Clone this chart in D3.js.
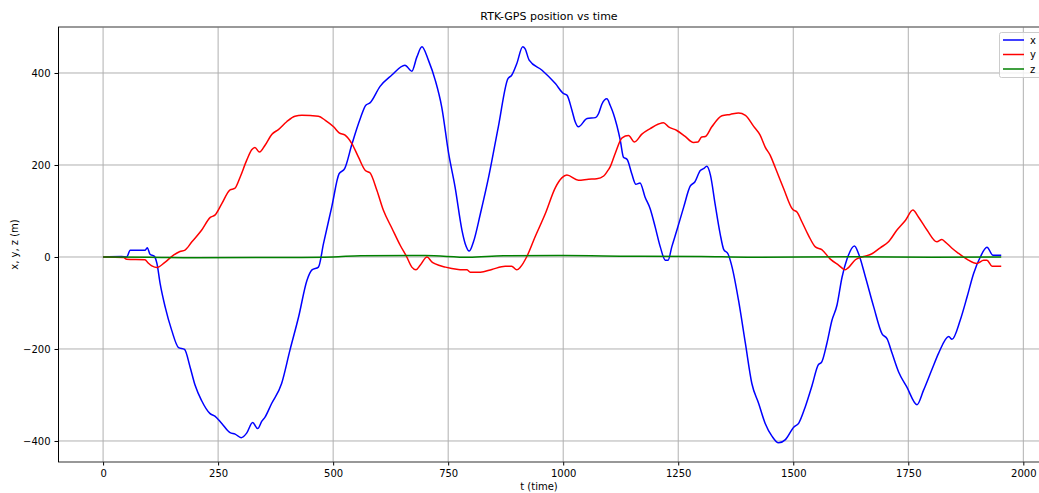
<!DOCTYPE html>
<html>
<head>
<meta charset="utf-8">
<script src="https://cdn.jsdelivr.net/npm/d3@7"></script>
<style>
body { margin: 0; background: #fff; }
text { font-family: "DejaVu Sans", sans-serif; fill: #000; }
</style>
</head>
<body>
<svg width="1039" height="493"></svg>
<script>
// samples: [t, value]
var xSeries = [[0,0],[40,1],[51,0],[59,14.5],[91,14.5],[96,20],[102,6],[111,2],[117,-14],[124,-58],[135,-109],[149,-159],[164,-197],[177,-201],[189,-239],[200,-279],[214,-312],[232,-340],[243,-346],[258,-362],[276,-382],[287,-385],[300,-393],[312,-383],[325,-360],[336,-373],[345,-357],[352,-348],[366,-319],[388,-275],[406,-203],[425,-130],[443,-51],[454,-28],[468,-22],[479,29],[497,109],[513,181],[525,192],[541,246],[559,301],[571,330],[580,335],[602,371],[627,395],[656,417],[671,404],[682,435],[693,457],[707,428],[722,384],[736,326],[751,225],[765,152],[780,58],[787,29],[796,13],[805,33],[820,94],[838,174],[859,283],[880,388],[888,395],[899,420],[912,457],[917,453],[926,428],[954,406],[983,377],[1001,355],[1008,352],[1019,319],[1026,294],[1033,283],[1052,301],[1070,303],[1077,312],[1084,332],[1095,344],[1102,330],[1109,312],[1124,254],[1131,217],[1139,212],[1149,181],[1158,158],[1167,161],[1178,130],[1189,105],[1200,65],[1211,22],[1222,-7],[1228,-7],[1236,22],[1247,58],[1262,109],[1276,154],[1286,163],[1298,188],[1305,192],[1312,197],[1320,178],[1330,116],[1341,51],[1349,16],[1358,7],[1367,-22],[1381,-94],[1396,-188],[1410,-275],[1425,-319],[1439,-362],[1454,-390],[1468,-404],[1483,-397],[1501,-370],[1512,-361],[1526,-326],[1541,-279],[1554,-235],[1562,-228],[1573,-188],[1584,-138],[1595,-105],[1606,-44],[1617,-4],[1633,24],[1642,7],[1657,-44],[1675,-109],[1693,-167],[1704,-178],[1715,-210],[1729,-250],[1747,-283],[1769,-321],[1783,-290],[1802,-243],[1816,-209],[1838,-173],[1845,-179],[1863,-137],[1878,-86],[1892,-36],[1907,1],[1921,21],[1934,4],[1952,4]];

var ySeries = [[0,0],[45,-1],[51,-5],[91,-6],[98,-13],[107,-20],[117,-23],[135,-11],[153,4],[167,12],[178,15],[193,33],[214,58],[233,86],[243,91],[258,116],[276,146],[286,149],[298,174],[312,210],[323,233],[330,238],[340,228],[352,243],[367,267],[381,277],[399,294],[417,306],[432,308],[468,306],[483,297],[501,283],[513,270],[526,265],[541,246],[555,217],[570,188],[580,183],[595,145],[609,102],[628,62],[646,25],[660,0],[671,-22],[680,-28],[689,-18],[704,0],[715,-11],[722,-15],[744,-22],[772,-27],[791,-28],[798,-33],[820,-33],[845,-27],[874,-20],[888,-20],[899,-28],[907,-22],[921,1],[939,44],[961,94],[983,151],[997,172],[1008,178],[1033,167],[1055,169],[1073,170],[1088,176],[1095,185],[1102,196],[1113,225],[1128,259],[1142,264],[1155,250],[1171,267],[1189,279],[1207,289],[1218,292],[1229,283],[1247,275],[1265,262],[1283,249],[1293,250],[1301,261],[1309,262],[1323,283],[1345,307],[1363,310],[1381,313],[1396,308],[1414,284],[1428,265],[1439,239],[1450,221],[1461,194],[1479,149],[1499,103],[1508,98],[1519,76],[1533,47],[1548,22],[1562,16],[1580,-4],[1599,-18],[1613,-28],[1620,-23],[1635,-6],[1653,1],[1671,7],[1689,20],[1707,33],[1725,58],[1744,80],[1760,102],[1772,87],[1791,58],[1812,33],[1823,38],[1830,33],[1845,19],[1859,8],[1878,-5],[1899,-14],[1914,-7],[1921,-7],[1932,-20],[1952,-20]];

var zSeries = [[0,0],[100,-0.5],[200,-1.5],[400,-1],[500,0],[560,2.8],[700,3],[795,-0.7],[870,2.5],[1000,3],[1150,1.5],[1300,1],[1400,-0.5],[1630,0.5],[1800,-0.5],[1952,0]];

var xTicks = [0, 250, 500, 750, 1000, 1250, 1500, 1750, 2000];
var yTicks = [-400, -200, 0, 200, 400];
var seriesNames = ["x", "y", "z"];
var seriesColors = ["#0000ff", "#ff0000", "#008000"];

var svg = d3.select("svg");
var pLeft = 58, pRight = 1050, pTop = 27, pBottom = 462;

var x = d3.scaleLinear().domain([-98, 2058]).range([pLeft, pRight]);
var y = d3.scaleLinear().domain([-445.7, 500]).range([pBottom, pTop]);

// grid
svg.append("g").selectAll("line").data(xTicks).enter().append("line")
	.attr("x1", function(d) { return x(d); }).attr("x2", function(d) { return x(d); })
	.attr("y1", pTop).attr("y2", pBottom)
	.attr("stroke", "#b0b0b0").attr("stroke-width", 1);
svg.append("g").selectAll("line").data(yTicks).enter().append("line")
	.attr("x1", pLeft).attr("x2", pRight)
	.attr("y1", function(d) { return y(d); }).attr("y2", function(d) { return y(d); })
	.attr("stroke", "#b0b0b0").attr("stroke-width", 1);

// lines
var line = d3.line()
	.x(function(d) { return x(d[0]); })
	.y(function(d) { return y(d[1]); })
	.curve(d3.curveMonotoneX);

[xSeries, ySeries, zSeries].forEach(function(s, i) {
	svg.append("path").datum(s)
		.attr("d", line)
		.attr("fill", "none")
		.attr("stroke", seriesColors[i])
		.attr("stroke-width", 1.5)
		.attr("stroke-linejoin", "round");
});

// axes
var fmt = function(d) { return d < 0 ? "\u2212" + Math.abs(d) : d; };
var xAxis = svg.append("g").attr("transform", "translate(0," + pBottom + ")")
	.call(d3.axisBottom(x).tickValues(xTicks).tickFormat(fmt).tickSize(3.5).tickPadding(4));
var yAxis = svg.append("g").attr("transform", "translate(" + pLeft + ",0)")
	.call(d3.axisLeft(y).tickValues(yTicks).tickFormat(fmt).tickSize(3.5).tickPadding(4));
[xAxis, yAxis].forEach(function(a) {
	a.select(".domain").remove();
	a.selectAll("text").style("font-family", "DejaVu Sans").style("font-size", "10px").attr("fill", "#000");
	a.selectAll("line").attr("stroke", "#000");
});

// spines
svg.append("line").attr("x1", pLeft).attr("x2", pRight).attr("y1", pTop).attr("y2", pTop)
	.attr("stroke", "#777").attr("stroke-width", 1.5);
svg.append("line").attr("x1", pLeft).attr("x2", pRight).attr("y1", pBottom).attr("y2", pBottom)
	.attr("stroke", "#333").attr("stroke-width", 1.2);
svg.append("line").attr("x1", pLeft + 0.5).attr("x2", pLeft + 0.5).attr("y1", pTop).attr("y2", pBottom)
	.attr("stroke", "#000").attr("stroke-width", 1);

// labels
svg.append("text").attr("x", 549).attr("y", 20).attr("text-anchor", "middle")
	.style("font-size", "11px").text("RTK-GPS position vs time");
svg.append("text").attr("x", 539).attr("y", 490).attr("text-anchor", "middle")
	.style("font-size", "10px").text("t (time)");
svg.append("text").attr("transform", "translate(18," + ((pTop + pBottom) / 2) + ") rotate(-90)")
	.attr("text-anchor", "middle").style("font-size", "10px").text("x, y, z (m)");

// legend
var lg = svg.append("g");
lg.append("rect").attr("x", 999.5).attr("y", 32.5).attr("width", 50).attr("height", 45).attr("rx", 2)
	.attr("fill", "#fff").attr("fill-opacity", 0.8).attr("stroke", "#ccc");
seriesNames.forEach(function(n, i) {
	var ly = 40 + i * 14.5;
	lg.append("line").attr("x1", 1003).attr("x2", 1024).attr("y1", ly).attr("y2", ly)
		.attr("stroke", seriesColors[i]).attr("stroke-width", 1.5);
	lg.append("text").attr("x", 1030).attr("y", ly + 3.5).style("font-size", "10px").text(n);
});
</script>
</body>
</html>
